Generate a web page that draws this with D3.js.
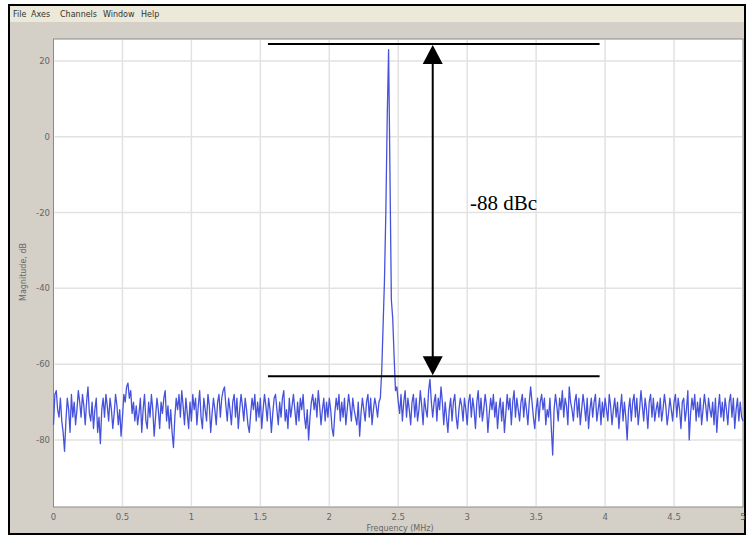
<!DOCTYPE html>
<html>
<head>
<meta charset="utf-8">
<script src="https://cdn.jsdelivr.net/npm/d3@7"></script>
<style>
  body { margin: 0; background: #fff; }
  text { font-family: "DejaVu Sans", sans-serif; }
</style>
</head>
<body>
<script>
const width = 747;
const height = 538;

// spectrum: 0 .. 5 MHz, step 0.01
const freqStep = 0.01;
const magnitude = [
  -76,-68,-67,-72,-74,-69,-75,-78,-83,-75,-69,-72,-78,-68,-74,-70,-76,-72,-67,-70,
  -74,-68,-71,-76,-70,-66,-73,-75,-70,-77,-72,-69,-78,-74,-81,-72,-69,-74,-68,-71,
  -75,-69,-72,-77,-73,-68,-71,-76,-72,-79,-74,-68,-70,-66,-65,-69,-67,-73,-70,-75,
  -71,-76,-73,-69,-78,-72,-68,-75,-77,-70,-74,-68,-72,-79,-74,-69,-72,-77,-70,-73,
  -69,-67,-75,-71,-77,-72,-78,-82,-74,-69,-72,-68,-74,-67,-71,-76,-69,-73,-77,-70,
  -75,-68,-72,-69,-76,-71,-67,-74,-77,-69,-72,-75,-68,-71,-78,-73,-69,-72,-76,-70,
  -68,-74,-69,-67,-66,-71,-75,-69,-72,-76,-70,-68,-74,-69,-77,-72,-68,-71,-75,-69,
  -72,-76,-78,-73,-69,-72,-68,-75,-70,-74,-69,-77,-72,-68,-71,-75,-69,-72,-78,-73,
  -69,-68,-72,-76,-70,-74,-69,-67,-75,-72,-77,-69,-74,-71,-68,-72,-76,-70,-75,-69,
  -72,-68,-74,-77,-72,-80,-74,-70,-68,-72,-69,-74,-67,-71,-76,-72,-69,-75,-70,-74,
  -69,-72,-77,-79,-73,-69,-72,-68,-75,-70,-74,-69,-76,-72,-68,-71,-75,-69,-72,-74,
  -76,-70,-79,-73,-69,-72,-75,-70,-68,-74,-69,-76,-72,-69,-71,-74,-70,-69,-62,-50,
  -38,-20,5,23,-10,-43,-48,-58,-67,-66,-70,-73,-68,-75,-70,-67,-74,-69,-72,-76,
  -70,-68,-74,-69,-75,-72,-67,-71,-76,-69,-72,-74,-67,-64,-70,-74,-70,-68,-75,-69,
  -72,-66,-70,-76,-70,-74,-78,-72,-69,-75,-70,-68,-74,-77,-72,-69,-71,-75,-69,-72,
  -76,-70,-68,-74,-69,-72,-77,-70,-67,-74,-69,-75,-72,-68,-71,-78,-73,-69,-72,-68,
  -74,-70,-77,-72,-69,-75,-70,-78,-73,-68,-72,-69,-76,-70,-67,-74,-69,-72,-75,-70,
  -68,-74,-69,-72,-76,-70,-66,-70,-74,-77,-72,-69,-75,-70,-68,-72,-69,-76,-72,-74,
  -69,-77,-84,-72,-68,-71,-75,-69,-72,-67,-74,-69,-71,-76,-66,-70,-72,-75,-70,-68,
  -74,-69,-76,-72,-68,-71,-75,-69,-77,-72,-69,-74,-70,-68,-75,-72,-69,-76,-70,-74,
  -69,-72,-75,-68,-71,-76,-72,-69,-74,-70,-77,-72,-68,-75,-70,-74,-80,-72,-69,-75,
  -70,-68,-74,-69,-76,-72,-67,-71,-75,-69,-72,-77,-70,-68,-74,-69,-75,-72,-70,-74,
  -69,-75,-72,-68,-71,-76,-73,-69,-72,-75,-70,-68,-74,-69,-72,-77,-70,-69,-75,-72,
  -67,-80,-73,-69,-72,-68,-75,-70,-74,-69,-76,-72,-68,-71,-75,-69,-72,-74,-70,-76,
  -69,-78,-72,-68,-74,-70,-75,-69,-72,-76,-70,-68,-74,-69,-77,-72,-69,-75,-70,-74,
  -75
];

const xTicks = [0, 0.5, 1, 1.5, 2, 2.5, 3, 3.5, 4, 4.5, 5];
const xTickLabels = ['0', '0.5', '1', '1.5', '2', '2.5', '3', '3.5', '4', '4.5', '5'];
const yTicks = [20, 0, -20, -40, -60, -80];
const menuItems = ['File', 'Axes', 'Channels', 'Window', 'Help'];

// annotation: carrier level, spur level, marker span
const carrierLevel = 24.5;
const spurLevel = -63.2;
const markerSpan = [1.555, 3.96];
const arrowFreq = 2.75;
const dbcLabel = '-88 dBc';

const svg = d3.select('body')
              .append('svg')
              .attr('width', width)
              .attr('height', height);

// window frame
svg.append('rect').attr('x', 9).attr('y', 5).attr('width', 736).attr('height', 529)
   .attr('fill', '#d4d0c8').attr('stroke', '#000').attr('stroke-width', 2);
svg.append('rect').attr('x', 10).attr('y', 6).attr('width', 734).attr('height', 16)
   .attr('fill', '#ece9d8');

const menuX = [13, 31, 60, 103, 141];
svg.selectAll('.menu').data(menuItems).enter().append('text')
   .attr('x', (d, i) => menuX[i]).attr('y', 17)
   .attr('font-size', 8).attr('fill', '#333').text(d => d);

const plot = {left: 53.5, right: 743, top: 39, bottom: 507};

const x = d3.scaleLinear().domain([0, 5]).range([plot.left, plot.right]);
const y = d3.scaleLinear().domain([-97.7, 25.8]).range([plot.bottom, plot.top]);

svg.append('rect').attr('x', plot.left).attr('y', plot.top)
   .attr('width', plot.right - plot.left).attr('height', plot.bottom - plot.top)
   .attr('fill', '#fff').attr('stroke', '#8a8a8a').attr('stroke-width', 1);

// grid
svg.selectAll('.vgrid').data(xTicks.slice(1, -1)).enter().append('line')
   .attr('x1', d => x(d)).attr('x2', d => x(d))
   .attr('y1', plot.top + 1).attr('y2', plot.bottom - 1)
   .attr('stroke', '#e2e2e2').attr('stroke-width', 1.5);
svg.selectAll('.hgrid').data(yTicks).enter().append('line')
   .attr('x1', plot.left + 1).attr('x2', plot.right - 1)
   .attr('y1', d => y(d)).attr('y2', d => y(d))
   .attr('stroke', '#e2e2e2').attr('stroke-width', 1.5);

// tick labels
svg.selectAll('.xlab').data(xTicks).enter().append('text')
   .attr('x', d => x(d)).attr('y', 520)
   .attr('text-anchor', 'middle').attr('font-size', 8.5).attr('fill', '#666')
   .text((d, i) => xTickLabels[i]);
svg.selectAll('.ylab').data(yTicks).enter().append('text')
   .attr('x', 50).attr('y', d => y(d) + 3)
   .attr('text-anchor', 'end').attr('font-size', 8.5).attr('fill', '#666')
   .text(d => d);

svg.append('text').attr('x', 400).attr('y', 531)
   .attr('text-anchor', 'middle').attr('font-size', 8).attr('fill', '#666')
   .text('Frequency (MHz)');
svg.append('text')
   .attr('transform', 'translate(26,272) rotate(-90)')
   .attr('text-anchor', 'middle').attr('font-size', 8).attr('fill', '#666')
   .text('Magnitude, dB');

// trace
const line = d3.line()
               .x((d, i) => x(i * freqStep))
               .y(d => y(d));
svg.append('path').datum(magnitude)
   .attr('d', line)
   .attr('fill', 'none')
   .attr('stroke', '#4652dc')
   .attr('stroke-width', 1.3)
   .attr('stroke-linejoin', 'round');

// annotation
const ann = svg.append('g').attr('stroke', '#000');
[carrierLevel, spurLevel].forEach(level => {
  ann.append('line')
     .attr('x1', x(markerSpan[0])).attr('x2', x(markerSpan[1]))
     .attr('y1', y(level)).attr('y2', y(level))
     .attr('stroke-width', 2);
});
const ax = x(arrowFreq);
const yTop = y(carrierLevel);
const yBot = y(spurLevel);
ann.append('line').attr('x1', ax).attr('x2', ax)
   .attr('y1', yTop + 15).attr('y2', yBot - 15).attr('stroke-width', 2);
svg.append('path')
   .attr('d', `M${ax},${yTop + 1}L${ax - 10},${yTop + 20}L${ax + 10},${yTop + 20}Z`)
   .attr('fill', '#000');
svg.append('path')
   .attr('d', `M${ax},${yBot - 1}L${ax - 10},${yBot - 20}L${ax + 10},${yBot - 20}Z`)
   .attr('fill', '#000');

svg.append('text').attr('x', 470).attr('y', 210)
   .style('font-family', '"Liberation Serif", "Times New Roman", serif')
   .attr('font-size', 21).attr('fill', '#000')
   .text(dbcLabel);
</script>
</body>
</html>
